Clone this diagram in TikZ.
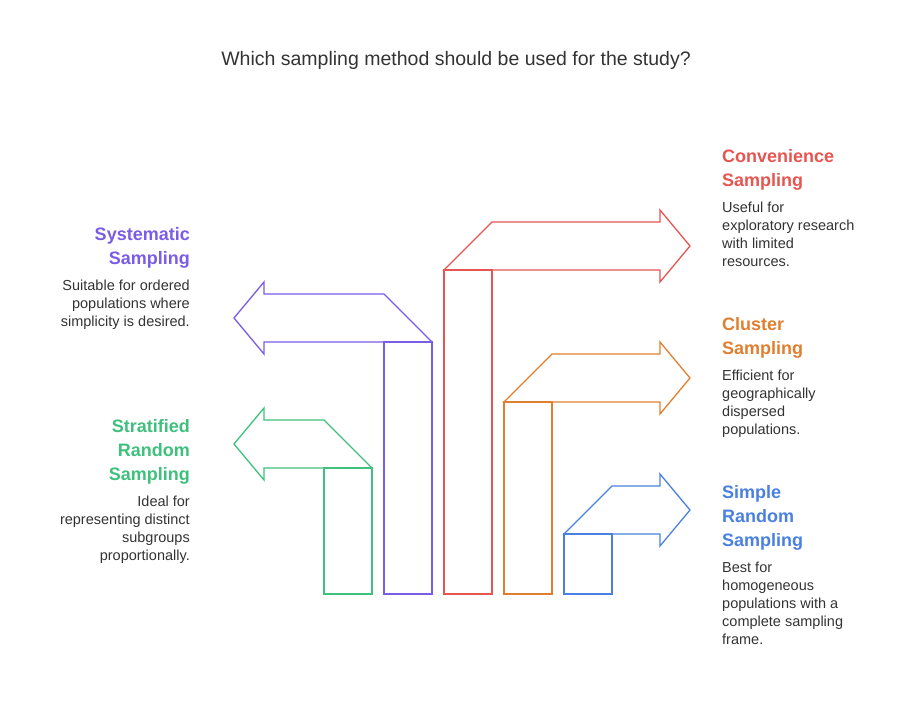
\documentclass[tikz,border=0pt]{standalone}
\usepackage{fontspec}
\setmainfont{Liberation Sans}
\usetikzlibrary{positioning}
\definecolor{convred}{HTML}{E55651}
\definecolor{clustorange}{HTML}{E07F2F}
\definecolor{simpblue}{HTML}{4A80E0}
\definecolor{sysviolet}{HTML}{7A5CE6}
\definecolor{stratgreen}{HTML}{3FC07D}
\definecolor{bodygray}{HTML}{333333}
\begin{document}
\begin{tikzpicture}[x=1pt,y=-1pt]
	\tikzstyle{outline}=[line width=1.3pt, line join=miter]
	\tikzstyle{heading}=[font=\fontsize{18}{24}\selectfont\bfseries, inner sep=0pt]
	\tikzstyle{bodytext}=[font=\fontsize{14.5}{18}\selectfont, text=bodygray, inner sep=0pt]
	\useasboundingbox (0,0) rectangle (912,708);
	\node[font=\fontsize{19.5}{22}\selectfont, text=bodygray] (title) at (456,60) {Which sampling method should be used for the study?};
	% right pointing arrows
	\draw[outline, convred] (444,270) rectangle (492,594);
	\draw[outline, convred] (444,270) -- (492,222) -- (660,222) -- (660,210) -- (690,246) -- (660,282) -- (660,270) -- cycle;
	\draw[outline, clustorange] (504,402) rectangle (552,594);
	\draw[outline, clustorange] (504,402) -- (552,354) -- (660,354) -- (660,342) -- (690,378) -- (660,414) -- (660,402) -- cycle;
	\draw[outline, simpblue] (564,534) rectangle (612,594);
	\draw[outline, simpblue] (564,534) -- (612,486) -- (660,486) -- (660,474) -- (690,510) -- (660,546) -- (660,534) -- cycle;
	% left pointing arrows
	\draw[outline, sysviolet] (384,342) rectangle (432,594);
	\draw[outline, sysviolet] (432,342) -- (384,294) -- (264,294) -- (264,282) -- (234,318) -- (264,354) -- (264,342) -- cycle;
	\draw[outline, stratgreen] (324,468) rectangle (372,594);
	\draw[outline, stratgreen] (372,468) -- (324,420) -- (264,420) -- (264,408) -- (234,444) -- (264,480) -- (264,468) -- cycle;
	% labels
	\node[heading, text=convred, align=left, anchor=north west] (convhead) at (722,149) {Convenience\\Sampling};
	\node[bodytext, align=left, below=12pt of convhead.south west, anchor=north west] (convbody) {Useful for\\exploratory research\\with limited\\resources.};
	\node[heading, text=clustorange, align=left, anchor=north west] (clusthead) at (722,317) {Cluster\\Sampling};
	\node[bodytext, align=left, below=12pt of clusthead.south west, anchor=north west] (clustbody) {Efficient for\\geographically\\dispersed\\populations.};
	\node[heading, text=simpblue, align=left, anchor=north west] (simphead) at (722,485) {Simple\\Random\\Sampling};
	\node[bodytext, align=left, below=12pt of simphead.south west, anchor=north west] (simpbody) {Best for\\homogeneous\\populations with a\\complete sampling\\frame.};
	\node[heading, text=sysviolet, align=right, anchor=north east] (syshead) at (190,227) {Systematic\\Sampling};
	\node[bodytext, align=right, below=12pt of syshead.south east, anchor=north east] (sysbody) {Suitable for ordered\\populations where\\simplicity is desired.};
	\node[heading, text=stratgreen, align=right, anchor=north east] (strathead) at (190,419) {Stratified\\Random\\Sampling};
	\node[bodytext, align=right, below=12pt of strathead.south east, anchor=north east] (stratbody) {Ideal for\\representing distinct\\subgroups\\proportionally.};
\end{tikzpicture}
\end{document}
